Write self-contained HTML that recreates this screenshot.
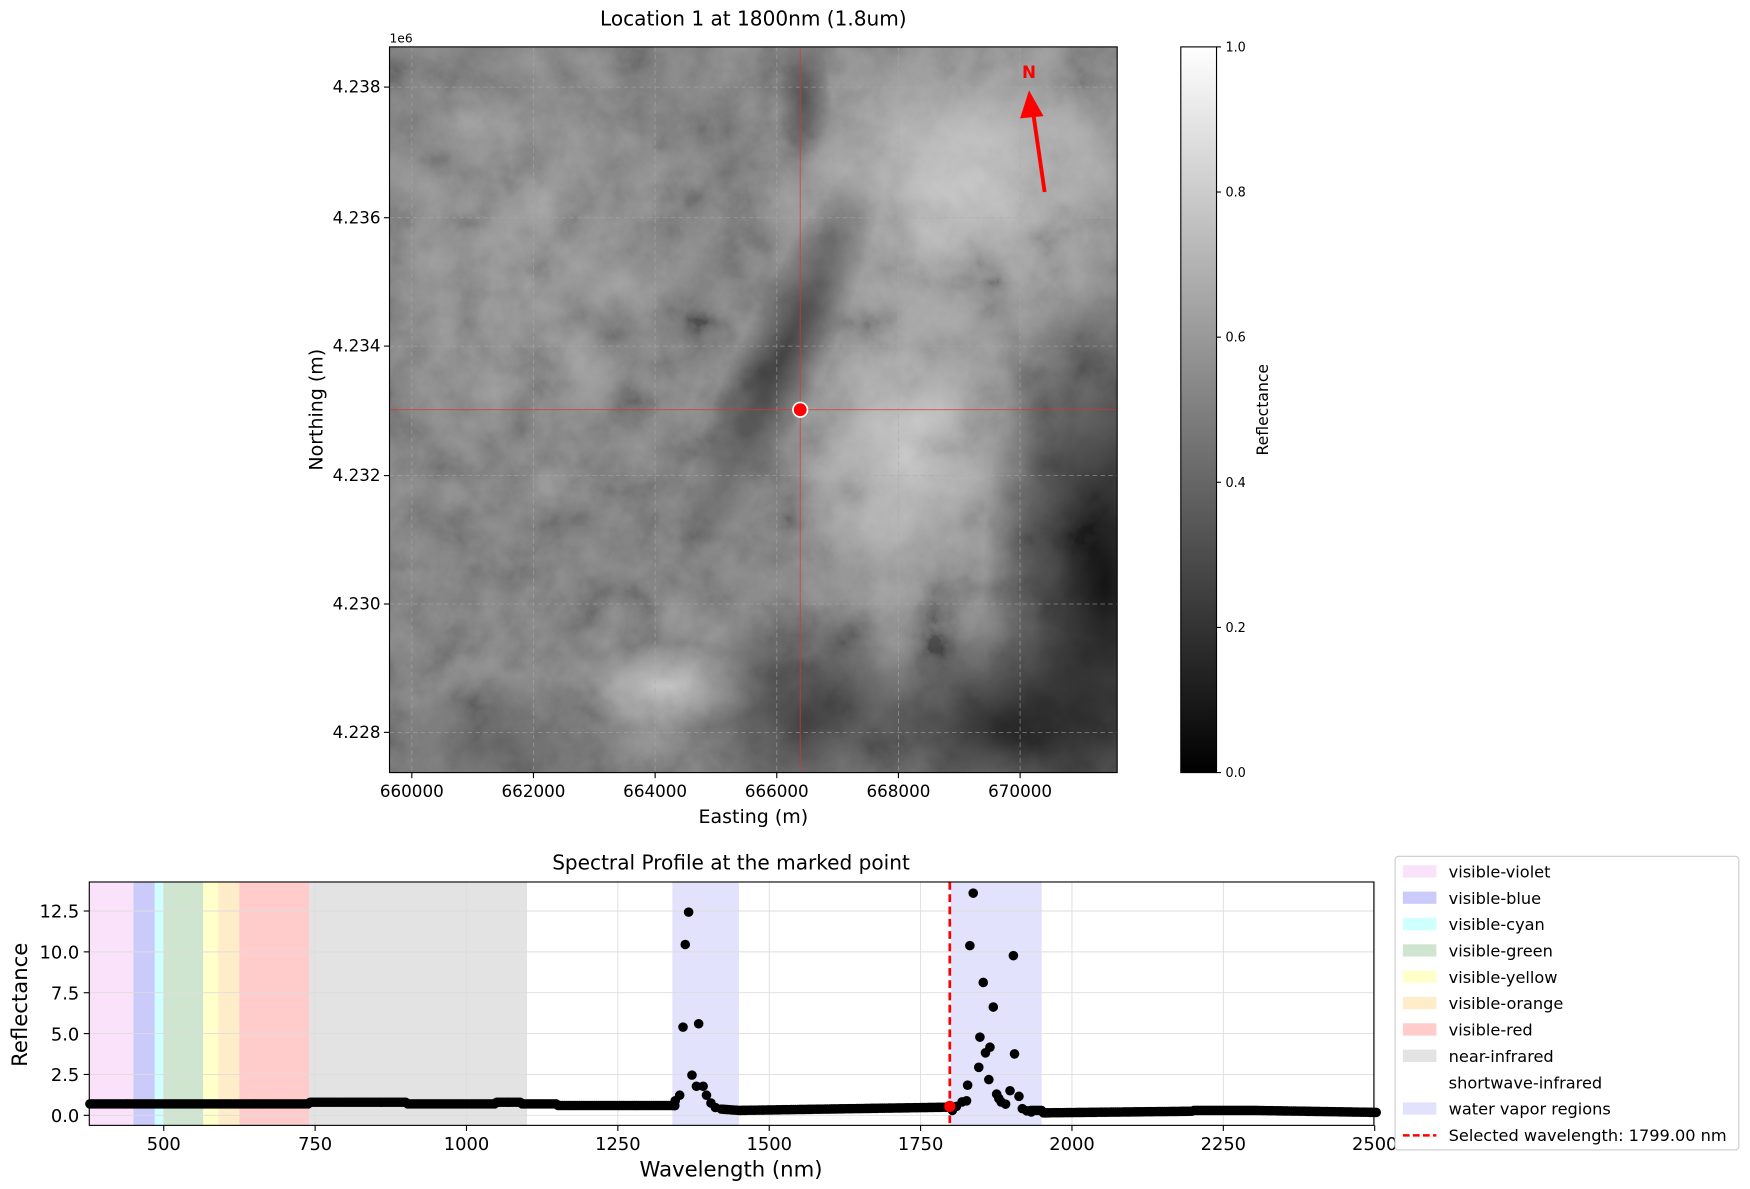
<!DOCTYPE html>
<html><head><meta charset="utf-8"><style>
html,body{margin:0;padding:0;background:#fff;}
svg{display:block;font-family:"DejaVu Sans","Liberation Sans",sans-serif;}
</style></head><body>
<svg id="s" width="1750" height="1189" viewBox="0 0 1568 1065" preserveAspectRatio="none" xmlns="http://www.w3.org/2000/svg">
<defs>
<filter id="tex" x="0" y="0" width="100%" height="100%">
<feTurbulence type="fractalNoise" baseFrequency="0.022" numOctaves="5" seed="7"/>
<feColorMatrix type="matrix" values="0.33 0.33 0.33 0 0  0.33 0.33 0.33 0 0  0.33 0.33 0.33 0 0  0 0 0 0 1"/>
<feComponentTransfer><feFuncR type="linear" slope="2.2" intercept="-0.6"/><feFuncG type="linear" slope="2.2" intercept="-0.6"/><feFuncB type="linear" slope="2.2" intercept="-0.6"/><feFuncA type="linear" slope="0" intercept="0.3"/></feComponentTransfer>
</filter>
<linearGradient id="cb" x1="0" y1="1" x2="0" y2="0">
<stop offset="0" stop-color="#000"/><stop offset="1" stop-color="#fff"/>
</linearGradient>
<radialGradient id="dk1" cx="0.5" cy="0.5" r="0.5"><stop offset="0" stop-color="#000" stop-opacity="0.85"/><stop offset="1" stop-color="#000" stop-opacity="0"/></radialGradient>
<radialGradient id="lt1" cx="0.5" cy="0.5" r="0.5"><stop offset="0" stop-color="#fff" stop-opacity="0.55"/><stop offset="1" stop-color="#fff" stop-opacity="0"/></radialGradient>
<clipPath id="mc"><rect x="349" y="42" width="652" height="650"/></clipPath>
</defs>
<text x="675" y="23" font-size="18" text-anchor="middle">Location 1 at 1800nm (1.8um)</text>
<g clip-path="url(#mc)">
<rect x="349" y="42" width="652" height="650" fill="#707070"/>
<rect x="349" y="42" width="652" height="650" filter="url(#tex)"/>
<ellipse cx="470" cy="230" rx="160" ry="200" fill="url(#lt1)" opacity="0.35"/>
<ellipse cx="870" cy="160" rx="200" ry="160" fill="url(#lt1)"/>
<ellipse cx="810" cy="400" rx="120" ry="180" fill="url(#lt1)"/>
<ellipse cx="600" cy="615" rx="90" ry="40" fill="url(#lt1)"/>
<ellipse cx="990" cy="520" rx="110" ry="270" fill="url(#dk1)"/>
<ellipse cx="900" cy="650" rx="150" ry="90" fill="url(#dk1)" opacity="0.8"/>
<ellipse cx="720" cy="640" rx="110" ry="100" fill="url(#dk1)" opacity="0.6"/>
<ellipse cx="700" cy="320" rx="40" ry="200" fill="url(#dk1)" opacity="0.6" transform="rotate(25 700 320)"/>
<ellipse cx="720" cy="90" rx="25" ry="60" fill="url(#dk1)" opacity="0.5"/>
<ellipse cx="450" cy="665" rx="130" ry="60" fill="url(#dk1)" opacity="0.3"/>
<g stroke="#aaa" stroke-dasharray="4 3" stroke-width="0.7" opacity="0.7">
<line x1="369" y1="42" x2="369" y2="692"/><line x1="478" y1="42" x2="478" y2="692"/><line x1="587" y1="42" x2="587" y2="692"/><line x1="696" y1="42" x2="696" y2="692"/><line x1="805" y1="42" x2="805" y2="692"/><line x1="914" y1="42" x2="914" y2="692"/>
<line x1="349" y1="78" x2="1001" y2="78"/><line x1="349" y1="195" x2="1001" y2="195"/><line x1="349" y1="310" x2="1001" y2="310"/><line x1="349" y1="426" x2="1001" y2="426"/><line x1="349" y1="541" x2="1001" y2="541"/><line x1="349" y1="656" x2="1001" y2="656"/>
</g>
<line x1="717" y1="42" x2="717" y2="692" stroke="#d33" stroke-width="0.8" opacity="0.8"/>
<line x1="349" y1="367" x2="1001" y2="367" stroke="#d33" stroke-width="0.8" opacity="0.8"/>
<circle cx="717" cy="367" r="6.5" fill="red" stroke="#fff" stroke-width="1.5"/>
<line x1="936" y1="172" x2="926" y2="103" stroke="red" stroke-width="3.5"/>
<polygon points="922,81 914,106 935,104" fill="red"/>
<text x="922" y="70" font-size="15" font-weight="bold" fill="red" text-anchor="middle">N</text>
</g>
<rect x="349" y="42" width="652" height="650" fill="none" stroke="#000" stroke-width="1"/>
<text x="349" y="38" font-size="11">1e6</text>
<g font-size="15" text-anchor="end">
<text x="341" y="83">4.238</text><text x="341" y="200">4.236</text><text x="341" y="315">4.234</text><text x="341" y="431">4.232</text><text x="341" y="546">4.230</text><text x="341" y="661">4.228</text>
</g>
<g stroke="#000"><line x1="344" y1="78" x2="349" y2="78"/><line x1="344" y1="195" x2="349" y2="195"/><line x1="344" y1="310" x2="349" y2="310"/><line x1="344" y1="426" x2="349" y2="426"/><line x1="344" y1="541" x2="349" y2="541"/><line x1="344" y1="656" x2="349" y2="656"/>
<line x1="369" y1="692" x2="369" y2="697"/><line x1="478" y1="692" x2="478" y2="697"/><line x1="587" y1="692" x2="587" y2="697"/><line x1="696" y1="692" x2="696" y2="697"/><line x1="805" y1="692" x2="805" y2="697"/><line x1="914" y1="692" x2="914" y2="697"/></g>
<g font-size="15" text-anchor="middle">
<text x="369" y="714">660000</text><text x="478" y="714">662000</text><text x="587" y="714">664000</text><text x="696" y="714">666000</text><text x="805" y="714">668000</text><text x="914" y="714">670000</text>
</g>
<text x="675" y="737" font-size="17" text-anchor="middle">Easting (m)</text>
<text transform="translate(289 367) rotate(-90)" font-size="17" text-anchor="middle">Northing (m)</text>
<rect x="1058" y="42" width="32" height="650" fill="url(#cb)" stroke="#000" stroke-width="1"/>
<g stroke="#000"><line x1="1090" y1="42" x2="1094" y2="42"/><line x1="1090" y1="172" x2="1094" y2="172"/><line x1="1090" y1="302" x2="1094" y2="302"/><line x1="1090" y1="432" x2="1094" y2="432"/><line x1="1090" y1="562" x2="1094" y2="562"/><line x1="1090" y1="692" x2="1094" y2="692"/></g>
<g font-size="11.5"><text x="1098" y="46">1.0</text><text x="1098" y="176">0.8</text><text x="1098" y="306">0.6</text><text x="1098" y="436">0.4</text><text x="1098" y="566">0.2</text><text x="1098" y="696">0.0</text></g>
<text transform="translate(1136 367) rotate(-90)" font-size="14" text-anchor="middle">Reflectance</text>

<text x="655" y="779" font-size="18" text-anchor="middle">Spectral Profile at the marked point</text>
<g id="bands"></g>
<g id="grid" stroke="#ddd" stroke-width="0.8"></g>
<g id="pts"></g>
<line x1="851" y1="790" x2="851" y2="1008" stroke="red" stroke-width="2.4" stroke-dasharray="7 4"/>
<circle cx="851" cy="991" r="5" fill="red"/>
<rect x="80" y="790" width="1151" height="218" fill="none" stroke="#000" stroke-width="1"/>
<g id="ticks" font-size="16"></g>
<text x="655" y="1054" font-size="19" text-anchor="middle">Wavelength (nm)</text>
<text transform="translate(24 900) rotate(-90)" font-size="19" text-anchor="middle">Reflectance</text>

<rect x="1250" y="767" width="308" height="263" rx="3" fill="#fff" stroke="#ccc"/>
<g id="leg" font-size="14.5"></g>
</svg>
<script>
const NS="http://www.w3.org/2000/svg";
function el(p,t,a){const e=document.createElementNS(NS,t);for(const k in a)e.setAttribute(k,a[k]);document.getElementById(p).appendChild(e);return e;}
const X=w=>80+(w-377)*0.5425, Y=v=>999-v*14.64;
const bands=[[377,450,"#f0b0f0",0.35],[450,485,"#4040f0",0.28],[485,500,"#40ffff",0.25],[500,565,"#2a8a2a",0.22],[565,590,"#ffff40",0.28],[590,625,"#ffc040",0.28],[625,740,"#ff3030",0.25],[740,1100,"#909090",0.25],[1340,1450,"#7070f0",0.2],[1800,1950,"#7070f0",0.2]];
bands.forEach(b=>el("bands","rect",{x:X(b[0]),y:790,width:X(b[1])-X(b[0]),height:218,fill:b[2],"fill-opacity":b[3]}));
[500,750,1000,1250,1500,1750,2000,2250,2500].forEach(w=>{el("grid","line",{x1:X(w),y1:790,x2:X(w),y2:1008});el("ticks","line",{x1:X(w),y1:1008,x2:X(w),y2:1013,stroke:"#000"});const t=el("ticks","text",{x:X(w),y:1030,"text-anchor":"middle"});t.textContent=w;});
[0,2.5,5,7.5,10,12.5].forEach(v=>{el("grid","line",{x1:80,y1:Y(v),x2:1231,y2:Y(v)});el("ticks","line",{x1:75,y1:Y(v),x2:80,y2:Y(v),stroke:"#000"});const t=el("ticks","text",{x:71,y:Y(v)+6,"text-anchor":"end"});t.textContent=v.toFixed(1);});
function base(w){
 if(w<740)return 0.7; if(w<900)return 0.8; if(w<1050)return 0.7; if(w<1090)return 0.8; if(w<1150)return 0.7;
 if(w<1340)return 0.6; if(w<1450)return 0.6-(w-1340)/110*0.3; if(w<1800)return 0.3+(w-1450)/350*0.2;
 if(w<1950)return 0.3; if(w<2200)return 0.15+(w-1950)/250*0.1; if(w<2300)return 0.3; return 0.3-(w-2300)/200*0.12;}
for(let w=378;w<=2505;w+=3.5){ if((w>1345&&w<1420)||(w>1805&&w<1930))continue; el("pts","circle",{cx:X(w),cy:Y(base(w)),r:4.3,fill:"#000"});}
const extra=[[612,920],[614,846],[617,817],[620,963],[624,973],[626,917],[630,973],[609,981],[633,981],[637,988],[641,992],[605,986],[862,987],[866,986],[867,972],[869,847],[872,800],[877,956],[878,929],[881,880],[883,943],[886,967],[887,938],[890,902],[893,980],[895,984],[897,987],[901,989],[905,977],[908,856],[909,944],[913,982],[916,993],[920,995],[924,996],[857,991]];
extra.forEach(p=>el("pts","circle",{cx:p[0],cy:p[1],r:4.3,fill:"#000"}));
const leg=[["visible-violet","#f0b0f0",0.35],["visible-blue","#4040f0",0.28],["visible-cyan","#40ffff",0.25],["visible-green","#2a8a2a",0.22],["visible-yellow","#ffff40",0.28],["visible-orange","#ffc040",0.28],["visible-red","#ff3030",0.25],["near-infrared","#909090",0.25],["shortwave-infrared","#fff",0],["water vapor regions","#7070f0",0.2],["Selected wavelength: 1799.00 nm",null,0]];
leg.forEach((l,i)=>{const y=781+i*23.6;
 if(l[1])el("leg","rect",{x:1257,y:y-6,width:30,height:11,fill:l[1],"fill-opacity":l[2]});
 else if(i==10)el("leg","line",{x1:1257,y1:y,x2:1287,y2:y,stroke:"red","stroke-width":2.2,"stroke-dasharray":"6 3"});
 const t=el("leg","text",{x:1298,y:y+5});t.textContent=l[0];});
</script>
</body></html>
